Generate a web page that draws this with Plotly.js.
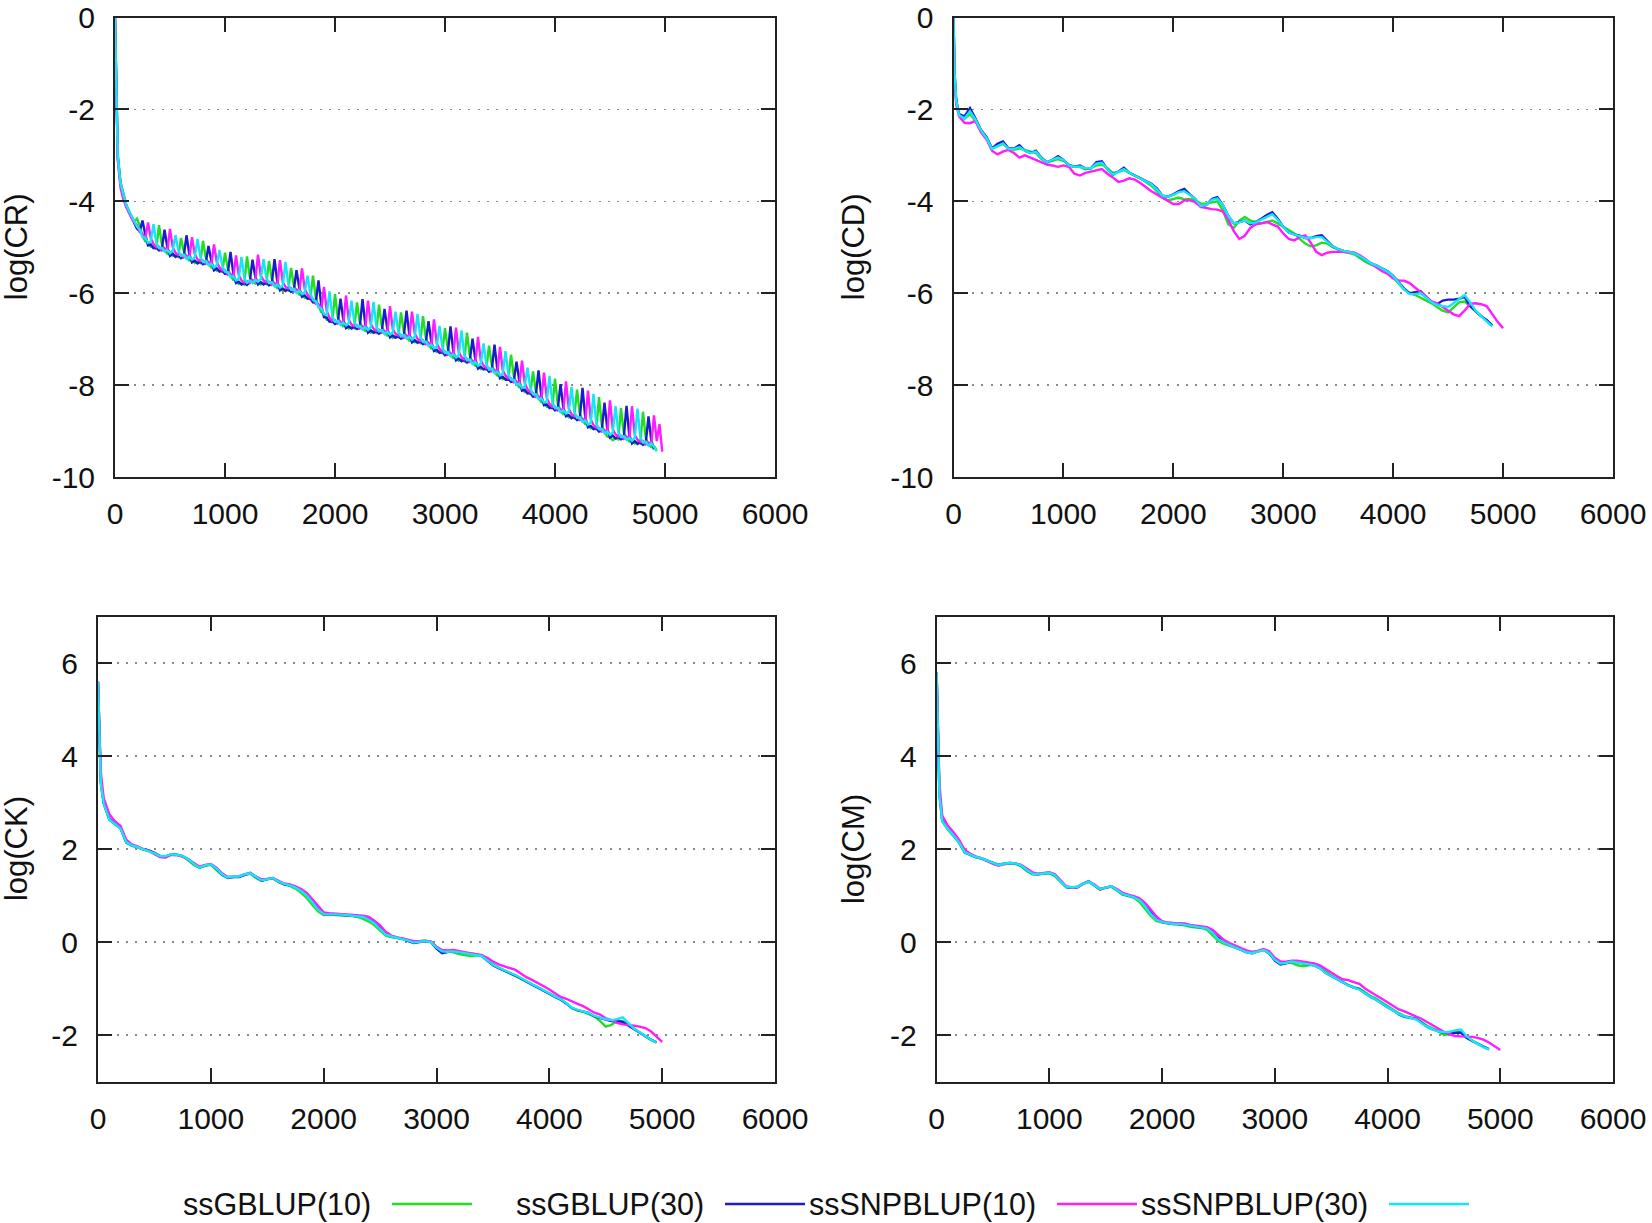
<!DOCTYPE html>
<html><head><meta charset="utf-8">
<script src="https://cdn.plot.ly/plotly-3.0.1.min.js"></script>
<style>html,body{margin:0;padding:0;background:#fff;}#chart{width:1652px;height:1223px;}</style>
</head><body><div id="chart"></div>
<script>
// ---------------- DATA ----------------
const seriesNames = ['ssGBLUP(10)', 'ssGBLUP(30)', 'ssSNPBLUP(10)', 'ssSNPBLUP(30)'];

const xTicks = [0, 1000, 2000, 3000, 4000, 5000, 6000];
const yTicksTop = [0, -2, -4, -6, -8, -10];
const yTicksBottom = [-2, 0, 2, 4, 6];

// log(CR): read every 25 iterations starting at iteration 0 (one row = 200 iterations)
const crFirstIter = 0;
const crIterStep = 25;
const crGBLUP10 = [
 0,-2.95,-3.58,-3.84,-4.05,-4.2,-4.33,-4.44,
 -4.38,-4.53,-4.75,-4.87,-4.89,-4.99,-4.98,-5.04,
 -4.52,-4.93,-5.06,-5.14,-5.12,-5.19,-5.17,-5.21,
 -4.8,-5.08,-5.22,-5.29,-5.26,-5.34,-5.31,-5.34,
 -4.86,-5.22,-5.36,-5.44,-5.43,-5.51,-5.49,-5.54,
 -5.12,-5.46,-5.62,-5.71,-5.71,-5.8,-5.77,-5.81,
 -5.2,-5.64,-5.75,-5.79,-5.74,-5.81,-5.77,-5.8,
 -5.3,-5.68,-5.82,-5.89,-5.87,-5.95,-5.91,-5.94,
 -5.45,-5.82,-5.96,-6.03,-6.01,-6.1,-6.08,-6.14,
 -5.62,-6.09,-6.28,-6.41,-6.45,-6.58,-6.58,-6.64,
 -6.02,-6.52,-6.66,-6.72,-6.69,-6.77,-6.73,-6.76,
 -6.2,-6.63,-6.76,-6.82,-6.79,-6.86,-6.82,-6.86,
 -6.25,-6.72,-6.86,-6.92,-6.89,-6.97,-6.93,-6.96,
 -6.42,-6.83,-6.96,-7.03,-7.0,-7.07,-7.04,-7.08,
 -6.5,-6.97,-7.12,-7.2,-7.19,-7.28,-7.26,-7.31,
 -6.76,-7.2,-7.34,-7.41,-7.39,-7.47,-7.44,-7.48,
 -6.86,-7.36,-7.51,-7.58,-7.57,-7.65,-7.62,-7.67,
 -7.14,-7.56,-7.71,-7.79,-7.78,-7.87,-7.84,-7.89,
 -7.34,-7.8,-7.96,-8.05,-8.05,-8.15,-8.14,-8.2,
 -7.7,-8.12,-8.28,-8.37,-8.37,-8.47,-8.46,-8.51,
 -7.86,-8.41,-8.56,-8.63,-8.61,-8.7,-8.68,-8.72,
 -8.1,-8.62,-8.77,-8.85,-8.85,-8.94,-8.92,-8.97,
 -8.26,-8.87,-9.02,-9.12,-9.14,-9.2,-9.16,-9.18,
 -8.5,-9.03,-9.16,-9.23,-9.2,-9.27,-9.24,-9.27,
 -8.58,-9.15,-9.29,-9.35,-9.33,-9.41];
const crGBLUP30 = [
 0,-3.05,-3.62,-3.88,-4.08,-4.22,-4.34,-4.46,
 -4.6,-4.65,-4.42,-4.72,-4.96,-4.94,-5.02,-5.01,
 -5.07,-5.05,-4.62,-4.99,-5.19,-5.14,-5.21,-5.18,
 -5.24,-5.2,-4.74,-5.14,-5.33,-5.29,-5.35,-5.31,
 -5.37,-5.34,-4.97,-5.29,-5.5,-5.46,-5.53,-5.51,
 -5.58,-5.58,-5.1,-5.56,-5.78,-5.75,-5.81,-5.78,
 -5.82,-5.76,-5.27,-5.64,-5.81,-5.76,-5.81,-5.77,
 -5.83,-5.8,-5.26,-5.74,-5.94,-5.9,-5.95,-5.91,
 -5.97,-5.94,-5.5,-5.88,-6.08,-6.05,-6.12,-6.11,
 -6.2,-6.21,-5.72,-6.26,-6.52,-6.53,-6.62,-6.61,
 -6.67,-6.64,-6.12,-6.57,-6.76,-6.72,-6.77,-6.73,
 -6.78,-6.75,-6.13,-6.67,-6.86,-6.81,-6.86,-6.83,
 -6.88,-6.84,-6.34,-6.77,-6.96,-6.92,-6.97,-6.93,
 -6.99,-6.95,-6.38,-6.88,-7.07,-7.02,-7.08,-7.05,
 -7.11,-7.09,-6.61,-7.05,-7.26,-7.23,-7.3,-7.28,
 -7.35,-7.32,-6.72,-7.26,-7.46,-7.42,-7.48,-7.45,
 -7.51,-7.48,-6.99,-7.43,-7.64,-7.6,-7.66,-7.64,
 -7.71,-7.68,-7.12,-7.64,-7.85,-7.82,-7.88,-7.86,
 -7.93,-7.92,-7.49,-7.9,-8.12,-8.1,-8.18,-8.17,
 -8.25,-8.24,-7.68,-8.22,-8.44,-8.42,-8.5,-8.48,
 -8.55,-8.53,-7.98,-8.48,-8.68,-8.65,-8.72,-8.69,
 -8.76,-8.74,-8.06,-8.7,-8.92,-8.89,-8.96,-8.94,
 -9.01,-8.99,-8.38,-8.94,-9.14,-9.1,-9.16,-9.13,
 -9.18,-9.15,-8.45,-9.08,-9.27,-9.22,-9.28,-9.24,
 -9.3,-9.27,-8.68,-9.2,-9.4];
const crSNP10 = [
 0,-3.1,-3.7,-3.95,-4.12,-4.26,-4.36,-4.45,
 -4.52,-4.67,-4.71,-4.82,-4.46,-4.8,-4.93,-5.0,
 -4.99,-5.07,-5.02,-5.09,-4.6,-5.0,-5.12,-5.17,
 -5.16,-5.22,-5.18,-5.24,-4.78,-5.15,-5.26,-5.3,
 -5.29,-5.36,-5.32,-5.39,-4.94,-5.32,-5.44,-5.5,
 -5.5,-5.6,-5.58,-5.66,-5.18,-5.61,-5.72,-5.77,
 -5.74,-5.78,-5.71,-5.74,-5.16,-5.62,-5.72,-5.76,
 -5.75,-5.82,-5.78,-5.84,-5.28,-5.76,-5.86,-5.9,
 -5.89,-5.96,-5.92,-5.98,-5.46,-5.91,-6.03,-6.1,
 -6.12,-6.23,-6.24,-6.36,-5.86,-6.39,-6.53,-6.6,
 -6.59,-6.66,-6.62,-6.67,-6.05,-6.58,-6.68,-6.72,
 -6.7,-6.77,-6.72,-6.77,-6.16,-6.67,-6.77,-6.82,
 -6.8,-6.86,-6.82,-6.87,-6.28,-6.78,-6.88,-6.92,
 -6.91,-6.97,-6.92,-6.98,-6.4,-6.88,-6.99,-7.04,
 -7.03,-7.11,-7.08,-7.15,-6.57,-7.09,-7.21,-7.27,
 -7.27,-7.34,-7.3,-7.36,-6.75,-7.28,-7.39,-7.44,
 -7.43,-7.5,-7.47,-7.53,-6.95,-7.46,-7.57,-7.63,
 -7.63,-7.7,-7.67,-7.74,-7.17,-7.68,-7.79,-7.85,
 -7.85,-7.94,-7.92,-8.0,-7.47,-7.96,-8.09,-8.16,
 -8.17,-8.26,-8.24,-8.32,-7.73,-8.28,-8.41,-8.47,
 -8.47,-8.55,-8.52,-8.58,-7.92,-8.51,-8.63,-8.68,
 -8.68,-8.76,-8.73,-8.8,-8.12,-8.75,-8.87,-8.93,
 -8.93,-9.01,-8.98,-9.04,-8.33,-8.96,-9.07,-9.12,
 -9.1,-9.17,-9.12,-9.18,-8.46,-9.08,-9.19,-9.23,
 -9.22,-9.29,-9.25,-9.3,-8.66,-9.22,-8.85,-9.45];
const crSNP30 = [
 0,-3.0,-3.6,-3.86,-4.06,-4.2,-4.32,-4.43,
 -4.55,-4.61,-4.78,-4.79,-4.9,-4.87,-4.5,-4.9,
 -5.02,-5.01,-5.09,-5.06,-5.13,-5.07,-4.74,-5.07,
 -5.19,-5.16,-5.25,-5.21,-5.27,-5.22,-4.82,-5.2,
 -5.32,-5.3,-5.39,-5.36,-5.44,-5.39,-5.06,-5.4,
 -5.53,-5.54,-5.65,-5.63,-5.72,-5.68,-5.21,-5.67,
 -5.77,-5.72,-5.78,-5.71,-5.75,-5.69,-5.26,-5.66,
 -5.78,-5.76,-5.85,-5.81,-5.88,-5.83,-5.32,-5.8,
 -5.92,-5.9,-5.99,-5.95,-6.02,-5.98,-5.62,-6.0,
 -6.15,-6.17,-6.31,-6.33,-6.46,-6.46,-5.96,-6.5,
 -6.62,-6.6,-6.69,-6.64,-6.7,-6.65,-6.16,-6.62,
 -6.73,-6.71,-6.79,-6.74,-6.8,-6.74,-6.19,-6.72,
 -6.83,-6.8,-6.89,-6.84,-6.9,-6.85,-6.4,-6.82,
 -6.94,-6.91,-6.99,-6.95,-7.01,-6.95,-6.45,-6.94,
 -7.06,-7.05,-7.15,-7.12,-7.2,-7.16,-6.71,-7.17,
 -7.3,-7.28,-7.37,-7.33,-7.4,-7.35,-6.81,-7.34,
 -7.46,-7.44,-7.54,-7.5,-7.58,-7.53,-7.09,-7.53,
 -7.66,-7.64,-7.74,-7.71,-7.79,-7.75,-7.26,-7.75,
 -7.88,-7.88,-7.99,-7.97,-8.06,-8.03,-7.62,-8.06,
 -8.2,-8.2,-8.31,-8.29,-8.38,-8.35,-7.8,-8.37,
 -8.5,-8.49,-8.59,-8.55,-8.62,-8.58,-8.04,-8.58,
 -8.71,-8.7,-8.8,-8.77,-8.86,-8.82,-8.19,-8.83,
 -8.96,-8.95,-9.05,-9.01,-9.08,-9.03,-8.46,-9.02,
 -9.13,-9.11,-9.19,-9.15,-9.21,-9.15,-8.51,-9.13,
 -9.25,-9.23,-9.32,-9.27,-9.34,-9.44];

// iterations for the smoother panels (CD, CK, CM)
const iterSmooth = [
 0,10,25,50,100,150,200,250,300,350,
 400,450,500,550,600,650,700,750,800,850,
 900,950,1000,1050,1100,1150,1200,1250,1300,1350,
 1400,1450,1500,1550,1600,1650,1700,1750,1800,1850,
 1900,1950,2000,2050,2100,2150,2200,2250,2300,2350,
 2400,2450,2500,2550,2600,2650,2700,2750,2800,2850,
 2900,2950,3000,3050,3100,3150,3200,3250,3300,3350,
 3400,3450,3500,3550,3600,3650,3700,3750,3800,3850,
 3900,3950,4000,4050,4100,4150,4200,4250,4300,4350,
 4400,4450,4500,4550,4600,4650,4700,4750,4800,4850,
 4900,4950,5000];

// log(CD)
const cdGBLUP10 = [
 0,-1.25,-1.85,-2.1,-2.2,-2.1,-2.25,-2.48,-2.62,-2.85,
 -2.8,-2.75,-2.85,-2.88,-2.85,-2.88,-2.92,-2.95,-3.08,-3.15,
 -3.12,-3.08,-3.12,-3.2,-3.24,-3.25,-3.3,-3.28,-3.22,-3.2,
 -3.28,-3.38,-3.36,-3.32,-3.38,-3.44,-3.5,-3.58,-3.66,-3.78,
 -3.9,-3.98,-3.95,-3.92,-3.96,-3.95,-3.98,-4.05,-4.05,-4.02,
 -4.0,-4.2,-4.5,-4.58,-4.42,-4.34,-4.42,-4.45,-4.48,-4.45,
 -4.42,-4.48,-4.55,-4.62,-4.7,-4.82,-4.92,-4.98,-4.96,-4.9,
 -4.92,-5.0,-5.05,-5.1,-5.12,-5.16,-5.24,-5.32,-5.38,-5.42,
 -5.48,-5.56,-5.66,-5.8,-5.92,-6.0,-6.04,-6.1,-6.16,-6.22,
 -6.3,-6.38,-6.42,-6.32,-6.2,-6.18,-6.28,-6.38,-6.48,-6.58,
 -6.7];
const cdGBLUP30 = [
 0,-1.2,-1.8,-2.1,-2.15,-1.97,-2.2,-2.45,-2.6,-2.85,
 -2.75,-2.7,-2.85,-2.85,-2.78,-2.9,-2.95,-2.9,-3.05,-3.15,
 -3.1,-3.02,-3.1,-3.22,-3.25,-3.22,-3.28,-3.28,-3.15,-3.13,
 -3.3,-3.42,-3.35,-3.27,-3.38,-3.44,-3.5,-3.56,-3.62,-3.72,
 -3.88,-3.9,-3.85,-3.78,-3.73,-3.85,-3.95,-4.12,-4.08,-3.95,
 -3.91,-4.08,-4.32,-4.48,-4.45,-4.42,-4.5,-4.45,-4.38,-4.3,
 -4.24,-4.38,-4.56,-4.68,-4.72,-4.75,-4.8,-4.8,-4.76,-4.74,
 -4.86,-4.98,-5.04,-5.08,-5.1,-5.13,-5.2,-5.28,-5.35,-5.4,
 -5.46,-5.52,-5.62,-5.76,-5.9,-6.0,-5.98,-5.96,-6.08,-6.2,
 -6.24,-6.16,-6.14,-6.14,-6.12,-6.08,-6.28,-6.4,-6.5,-6.58,
 -6.7];
const cdSNP10 = [
 0,-1.3,-1.9,-2.15,-2.29,-2.3,-2.25,-2.5,-2.65,-2.9,
 -2.98,-2.92,-2.88,-2.95,-3.05,-3.0,-3.05,-3.1,-3.15,-3.2,
 -3.22,-3.25,-3.22,-3.25,-3.4,-3.44,-3.38,-3.35,-3.32,-3.3,
 -3.4,-3.48,-3.58,-3.55,-3.5,-3.53,-3.6,-3.7,-3.78,-3.85,
 -3.92,-3.98,-4.06,-4.06,-3.98,-3.98,-4.02,-4.12,-4.15,-4.17,
 -4.18,-4.22,-4.4,-4.65,-4.82,-4.75,-4.58,-4.5,-4.48,-4.45,
 -4.5,-4.55,-4.7,-4.82,-4.85,-4.78,-4.74,-4.9,-5.1,-5.17,
 -5.12,-5.1,-5.1,-5.1,-5.12,-5.12,-5.18,-5.26,-5.36,-5.45,
 -5.52,-5.58,-5.68,-5.72,-5.73,-5.78,-5.88,-6.0,-6.1,-6.18,
 -6.22,-6.3,-6.38,-6.46,-6.5,-6.38,-6.23,-6.22,-6.24,-6.28,
 -6.45,-6.62,-6.76];
const cdSNP30 = [
 0,-1.22,-1.82,-2.12,-2.2,-2.04,-2.22,-2.46,-2.62,-2.86,
 -2.8,-2.74,-2.86,-2.86,-2.82,-2.9,-2.95,-2.92,-3.06,-3.15,
 -3.1,-3.05,-3.1,-3.22,-3.25,-3.24,-3.28,-3.28,-3.18,-3.16,
 -3.3,-3.42,-3.36,-3.3,-3.38,-3.44,-3.5,-3.56,-3.63,-3.74,
 -3.88,-3.9,-3.86,-3.8,-3.78,-3.86,-3.95,-4.1,-4.08,-3.97,
 -3.94,-4.08,-4.32,-4.48,-4.46,-4.42,-4.48,-4.46,-4.4,-4.33,
 -4.28,-4.4,-4.56,-4.68,-4.72,-4.76,-4.8,-4.8,-4.78,-4.78,
 -4.88,-4.98,-5.04,-5.08,-5.1,-5.14,-5.2,-5.28,-5.35,-5.4,
 -5.46,-5.53,-5.63,-5.78,-5.92,-6.02,-6.02,-6.0,-6.1,-6.2,
 -6.26,-6.28,-6.3,-6.22,-6.12,-6.04,-6.2,-6.38,-6.5,-6.6,
 -6.72];

// log(CK)
const ckGBLUP10 = [
 5.6,4.5,3.42,2.98,2.63,2.53,2.45,2.14,2.07,2.04,
 1.99,1.96,1.9,1.84,1.84,1.88,1.87,1.84,1.76,1.66,
 1.6,1.64,1.66,1.56,1.44,1.4,1.41,1.41,1.45,1.47,
 1.38,1.32,1.36,1.37,1.29,1.24,1.21,1.15,1.06,0.95,
 0.8,0.66,0.58,0.59,0.58,0.58,0.57,0.56,0.54,0.5,
 0.44,0.36,0.24,0.14,0.11,0.09,0.07,0.03,0.0,0.02,
 0.03,0.01,-0.1,-0.18,-0.2,-0.22,-0.26,-0.28,-0.3,-0.29,
 -0.28,-0.38,-0.48,-0.55,-0.61,-0.67,-0.72,-0.78,-0.85,-0.92,
 -0.98,-1.04,-1.1,-1.17,-1.23,-1.32,-1.42,-1.47,-1.5,-1.55,
 -1.6,-1.7,-1.82,-1.78,-1.7,-1.7,-1.78,-1.87,-1.94,-2.02,
 -2.1,-2.15];
const ckGBLUP30 = [
 5.6,4.5,3.45,3.0,2.65,2.55,2.45,2.15,2.08,2.05,
 2.0,1.97,1.92,1.85,1.84,1.89,1.88,1.85,1.78,1.68,
 1.6,1.65,1.67,1.58,1.45,1.38,1.4,1.4,1.45,1.49,
 1.4,1.32,1.35,1.38,1.3,1.24,1.22,1.18,1.12,1.03,
 0.88,0.74,0.6,0.6,0.59,0.59,0.58,0.57,0.56,0.55,
 0.5,0.42,0.3,0.17,0.12,0.09,0.07,0.02,-0.02,0.0,
 0.02,0.0,-0.14,-0.24,-0.22,-0.19,-0.22,-0.24,-0.25,-0.26,
 -0.3,-0.4,-0.5,-0.56,-0.62,-0.67,-0.72,-0.79,-0.86,-0.92,
 -0.98,-1.05,-1.12,-1.18,-1.24,-1.32,-1.42,-1.47,-1.49,-1.53,
 -1.6,-1.64,-1.67,-1.7,-1.7,-1.72,-1.8,-1.88,-1.95,-2.02,
 -2.1,-2.16];
const ckSNP10 = [
 5.6,4.7,3.65,3.1,2.75,2.6,2.5,2.2,2.1,2.06,
 2.0,1.96,1.9,1.83,1.82,1.88,1.87,1.84,1.78,1.7,
 1.62,1.66,1.68,1.6,1.48,1.4,1.4,1.42,1.46,1.48,
 1.42,1.35,1.36,1.38,1.32,1.26,1.24,1.2,1.14,1.06,
 0.92,0.78,0.64,0.62,0.61,0.6,0.59,0.58,0.58,0.57,
 0.54,0.46,0.36,0.22,0.14,0.1,0.08,0.05,0.02,0.02,
 0.03,0.01,-0.1,-0.17,-0.18,-0.17,-0.2,-0.22,-0.24,-0.26,
 -0.28,-0.34,-0.42,-0.48,-0.52,-0.56,-0.6,-0.68,-0.76,-0.82,
 -0.88,-0.95,-1.02,-1.1,-1.18,-1.22,-1.28,-1.33,-1.38,-1.45,
 -1.52,-1.56,-1.64,-1.68,-1.74,-1.77,-1.78,-1.8,-1.82,-1.85,
 -1.92,-2.04,-2.15];
const ckSNP30 = [
 5.6,4.45,3.4,2.98,2.64,2.54,2.44,2.15,2.08,2.04,
 2.0,1.96,1.91,1.85,1.85,1.89,1.88,1.85,1.78,1.68,
 1.6,1.65,1.67,1.58,1.46,1.39,1.41,1.41,1.46,1.48,
 1.4,1.33,1.35,1.38,1.3,1.25,1.22,1.17,1.1,1.0,
 0.85,0.7,0.6,0.6,0.59,0.59,0.58,0.57,0.56,0.54,
 0.48,0.4,0.28,0.16,0.12,0.09,0.07,0.03,-0.01,0.0,
 0.02,0.0,-0.12,-0.2,-0.21,-0.2,-0.22,-0.24,-0.25,-0.27,
 -0.3,-0.39,-0.49,-0.55,-0.61,-0.66,-0.71,-0.78,-0.85,-0.91,
 -0.97,-1.04,-1.11,-1.17,-1.23,-1.31,-1.41,-1.46,-1.49,-1.53,
 -1.59,-1.63,-1.66,-1.68,-1.66,-1.62,-1.74,-1.86,-1.94,-2.02,
 -2.1,-2.16];

// log(CM)
const cmGBLUP10 = [
 5.8,4.5,3.18,2.6,2.42,2.28,2.13,1.92,1.87,1.82,
 1.79,1.74,1.7,1.66,1.68,1.69,1.68,1.63,1.53,1.46,
 1.46,1.48,1.48,1.42,1.29,1.18,1.17,1.19,1.26,1.29,
 1.21,1.13,1.17,1.19,1.11,1.02,0.99,0.95,0.86,0.72,
 0.56,0.45,0.42,0.4,0.39,0.38,0.36,0.33,0.32,0.3,
 0.26,0.15,0.02,-0.04,-0.08,-0.12,-0.16,-0.2,-0.22,-0.2,
 -0.17,-0.25,-0.36,-0.43,-0.44,-0.45,-0.5,-0.52,-0.5,-0.49,
 -0.54,-0.64,-0.72,-0.79,-0.86,-0.92,-0.97,-1.0,-1.08,-1.16,
 -1.22,-1.3,-1.38,-1.45,-1.53,-1.59,-1.62,-1.65,-1.72,-1.8,
 -1.86,-1.92,-2.0,-1.98,-1.92,-1.94,-2.05,-2.12,-2.18,-2.25,
 -2.3];
const cmGBLUP30 = [
 5.8,4.5,3.2,2.62,2.44,2.3,2.15,1.93,1.88,1.83,
 1.8,1.75,1.7,1.66,1.69,1.7,1.69,1.65,1.55,1.47,
 1.46,1.48,1.49,1.44,1.3,1.18,1.17,1.18,1.26,1.31,
 1.22,1.13,1.17,1.2,1.12,1.03,1.0,0.97,0.92,0.8,
 0.64,0.5,0.43,0.41,0.39,0.39,0.37,0.34,0.33,0.31,
 0.3,0.2,0.08,0.0,-0.06,-0.11,-0.16,-0.22,-0.24,-0.2,
 -0.16,-0.24,-0.4,-0.48,-0.46,-0.42,-0.43,-0.46,-0.48,-0.5,
 -0.56,-0.66,-0.73,-0.8,-0.87,-0.93,-0.98,-1.01,-1.1,-1.18,
 -1.24,-1.33,-1.4,-1.47,-1.56,-1.61,-1.63,-1.65,-1.73,-1.82,
 -1.88,-1.92,-1.95,-1.97,-1.95,-1.95,-2.06,-2.13,-2.19,-2.26,
 -2.31];
const cmSNP10 = [
 5.8,4.7,3.4,2.72,2.5,2.36,2.2,1.98,1.9,1.84,
 1.8,1.74,1.68,1.64,1.68,1.7,1.69,1.66,1.57,1.5,
 1.47,1.49,1.5,1.46,1.34,1.2,1.17,1.18,1.25,1.3,
 1.24,1.15,1.17,1.2,1.14,1.06,1.02,0.99,0.94,0.84,
 0.7,0.55,0.45,0.42,0.41,0.41,0.4,0.37,0.35,0.33,
 0.32,0.26,0.14,0.04,-0.02,-0.08,-0.13,-0.18,-0.21,-0.19,
 -0.15,-0.2,-0.34,-0.42,-0.42,-0.4,-0.4,-0.42,-0.44,-0.46,
 -0.5,-0.58,-0.66,-0.73,-0.8,-0.82,-0.86,-0.9,-1.0,-1.08,
 -1.15,-1.22,-1.3,-1.38,-1.45,-1.49,-1.55,-1.6,-1.65,-1.72,
 -1.78,-1.85,-1.93,-1.98,-2.02,-2.03,-2.03,-2.04,-2.06,-2.1,
 -2.16,-2.25,-2.32];
const cmSNP30 = [
 5.8,4.45,3.15,2.6,2.43,2.29,2.14,1.93,1.88,1.83,
 1.8,1.75,1.7,1.66,1.69,1.7,1.69,1.65,1.55,1.47,
 1.46,1.48,1.49,1.44,1.3,1.19,1.18,1.19,1.26,1.3,
 1.22,1.14,1.17,1.2,1.12,1.03,1.0,0.96,0.9,0.77,
 0.6,0.48,0.43,0.41,0.39,0.39,0.37,0.34,0.33,0.31,
 0.29,0.19,0.06,-0.01,-0.07,-0.12,-0.17,-0.22,-0.24,-0.2,
 -0.17,-0.24,-0.38,-0.46,-0.45,-0.42,-0.44,-0.47,-0.48,-0.5,
 -0.56,-0.66,-0.73,-0.8,-0.87,-0.93,-0.98,-1.02,-1.1,-1.18,
 -1.24,-1.33,-1.4,-1.47,-1.55,-1.6,-1.63,-1.66,-1.74,-1.82,
 -1.88,-1.92,-1.94,-1.93,-1.9,-1.88,-2.02,-2.12,-2.19,-2.26,
 -2.31];

// ---------------- STYLE / LAYOUT ----------------
const COLORS = ['#22dd22', '#1c1ccf', '#ff1cff', '#14e6f5'];
const W = 1652, H = 1223;
const FONT_FAMILY = '"Liberation Sans", Arial, sans-serif';
const TEXT_COLOR = '#111111';
const LINE_W = 2.4;

const panels = [
  {xa: 'x',  ya: 'y',  ys: [crGBLUP10, crGBLUP30, crSNP10, crSNP30], cr: true, title: 'log(CR)'},
  {xa: 'x2', ya: 'y2', ys: [cdGBLUP10, cdGBLUP30, cdSNP10, cdSNP30], title: 'log(CD)'},
  {xa: 'x3', ya: 'y3', ys: [ckGBLUP10, ckGBLUP30, ckSNP10, ckSNP30], title: 'log(CK)'},
  {xa: 'x4', ya: 'y4', ys: [cmGBLUP10, cmGBLUP30, cmSNP10, cmSNP30], title: 'log(CM)'}
];

const traces = [];
panels.forEach(p => {
  p.ys.forEach((vals, k) => {
    const t = {
      type: 'scatter', mode: 'lines', name: seriesNames[k],
      xaxis: p.xa, yaxis: p.ya, y: vals,
      line: {color: COLORS[k], width: LINE_W},
      showlegend: false, hoverinfo: 'skip'
    };
    if (p.cr) { t.x0 = crFirstIter; t.dx = crIterStep; }
    else { t.x = iterSmooth; }
    traces.push(t);
  });
});

// pixel boxes of the four frames
const boxes = [
  {l: 115, r: 775, t: 17.5, b: 477},
  {l: 953.5, r: 1613, t: 17.5, b: 477},
  {l: 98, r: 775, t: 616.7, b: 1081.5},
  {l: 936.6, r: 1613, t: 616.7, b: 1081.5}
];
const tickFont = {family: FONT_FAMILY, size: 30, color: TEXT_COLOR};

function xAxis(b, anchor) {
  return {
    domain: [b.l / W, b.r / W], anchor: anchor, range: [0, 6000],
    tickmode: 'array', tickvals: xTicks, ticktext: xTicks.map(String),
    ticks: 'inside', ticklen: 14, tickwidth: 2, tickcolor: '#222',
    mirror: 'ticks', showline: true, linewidth: 2, linecolor: '#222',
    showgrid: false, zeroline: false, tickfont: tickFont,
    ticklabelstandoff: 9, fixedrange: true
  };
}
function yAxis(b, anchor, range, tv) {
  return {
    domain: [1 - b.b / H, 1 - b.t / H], anchor: anchor, range: range,
    tickmode: 'array', tickvals: tv, ticktext: tv.map(String),
    ticks: 'inside', ticklen: 14, tickwidth: 2, tickcolor: '#222',
    mirror: 'ticks', showline: true, linewidth: 2, linecolor: '#222',
    showgrid: true, gridcolor: '#8a8a8a', gridwidth: 1.5, griddash: '2px,7.3px',
    zeroline: false, tickfont: tickFont, ticklabelstandoff: 12,
    ticklabeloverflow: 'allow', fixedrange: true
  };
}

const annotations = [];
const shapes = [];
const titleX = [16, 853, 16, 853];
panels.forEach((p, i) => {
  const b = boxes[i];
  annotations.push({
    xref: 'paper', yref: 'paper', x: titleX[i] / W, y: 1 - ((b.t + b.b) / 2) / H,
    xanchor: 'center', yanchor: 'middle', text: p.title, textangle: -90, showarrow: false,
    font: {family: FONT_FAMILY, size: 31, color: TEXT_COLOR}
  });
});

// legend (gnuplot style: label then line sample)
const legendY = 1204;
const legendTextRight = [373, 706, 1038, 1370];
seriesNames.forEach((name, k) => {
  annotations.push({
    xref: 'paper', yref: 'paper', x: legendTextRight[k] / W, y: 1 - legendY / H,
    xanchor: 'right', yanchor: 'middle', text: name, showarrow: false,
    font: {family: FONT_FAMILY, size: 30.5, color: TEXT_COLOR}
  });
  shapes.push({
    type: 'line', xref: 'paper', yref: 'paper',
    x0: (legendTextRight[k] + 19) / W, x1: (legendTextRight[k] + 99) / W,
    y0: 1 - legendY / H, y1: 1 - legendY / H,
    line: {color: COLORS[k], width: LINE_W}
  });
});

const layout = {
  width: W, height: H,
  margin: {l: 0, r: 0, t: 0, b: 0, pad: 0},
  paper_bgcolor: '#ffffff', plot_bgcolor: '#ffffff',
  showlegend: false,
  font: {family: FONT_FAMILY, color: TEXT_COLOR},
  xaxis: xAxis(boxes[0], 'y'),
  yaxis: yAxis(boxes[0], 'x', [-10, 0], yTicksTop),
  xaxis2: xAxis(boxes[1], 'y2'),
  yaxis2: yAxis(boxes[1], 'x2', [-10, 0], yTicksTop),
  xaxis3: xAxis(boxes[2], 'y3'),
  yaxis3: yAxis(boxes[2], 'x3', [-3, 7], yTicksBottom),
  xaxis4: xAxis(boxes[3], 'y4'),
  yaxis4: yAxis(boxes[3], 'x4', [-3, 7], yTicksBottom),
  annotations: annotations,
  shapes: shapes
};

Plotly.newPlot('chart', traces, layout, {staticPlot: true, displayModeBar: false});
</script>
</body></html>
